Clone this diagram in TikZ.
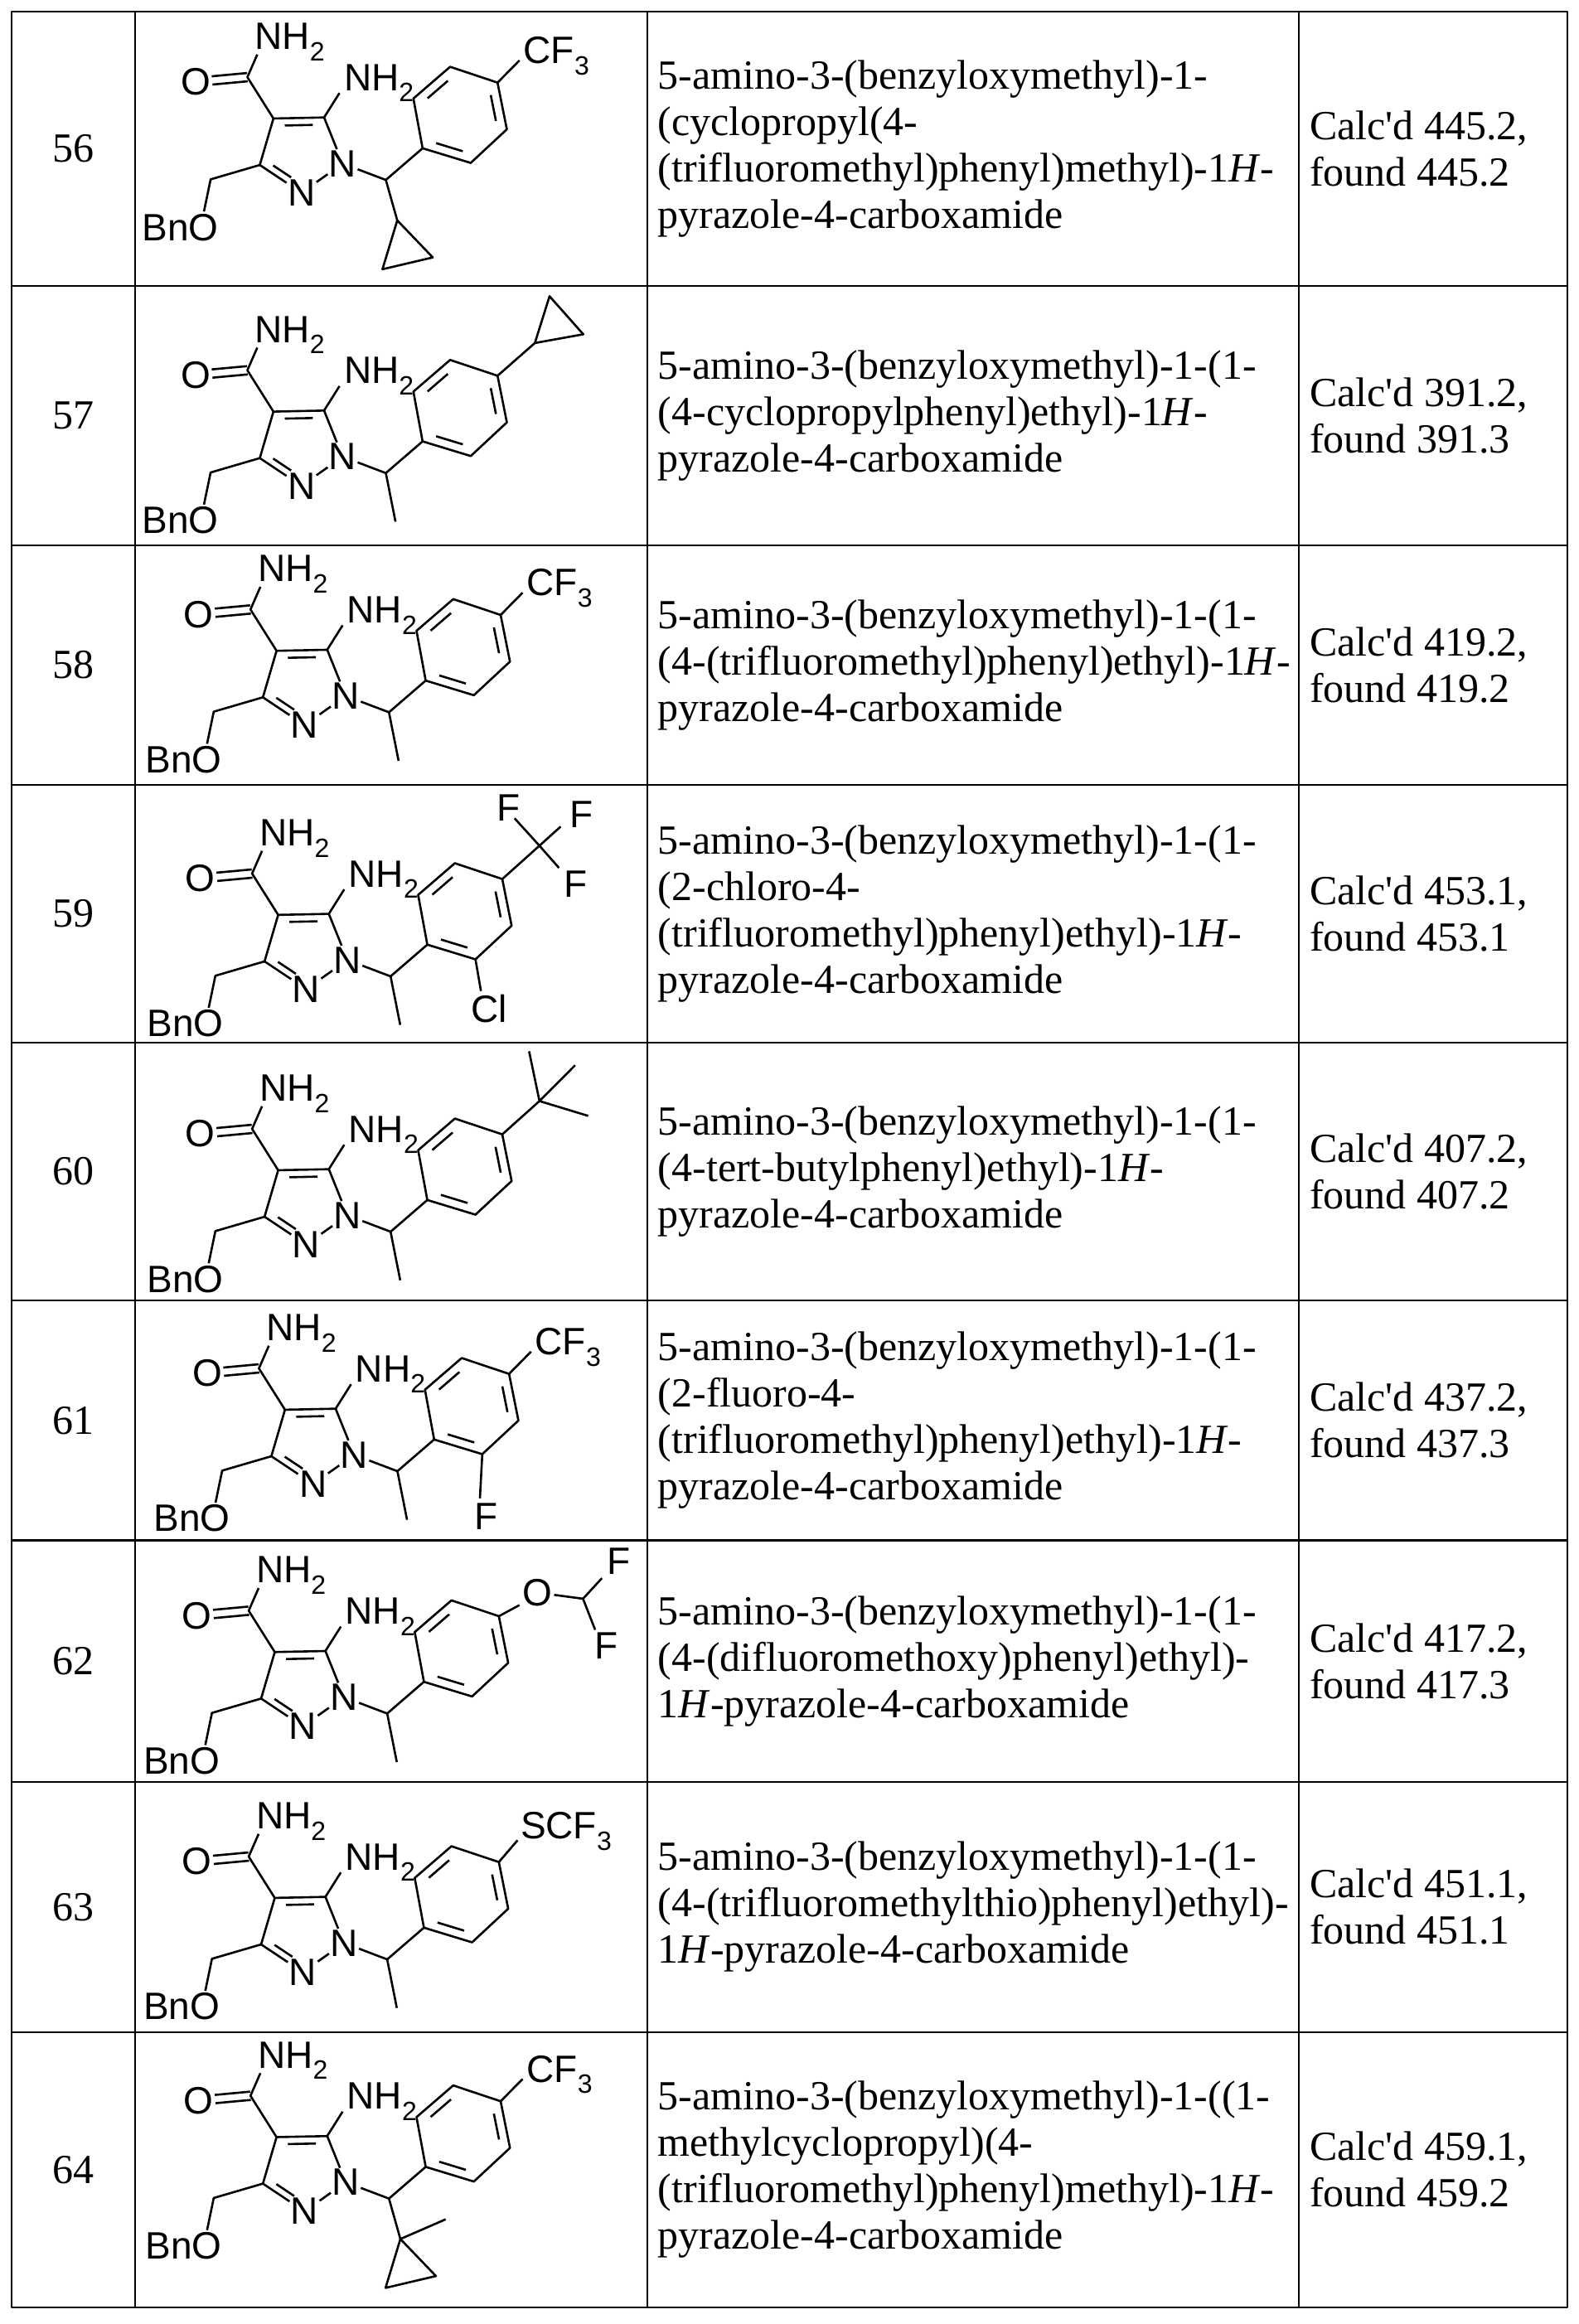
\documentclass[tikz,border=0pt]{standalone}
\usepackage{fontspec}
\setmainfont{Liberation Serif}[Ligatures=TeXOff]
\newfontfamily\arialf{Liberation Sans}
\usetikzlibrary{calc}
\newcommand\sbs[1]{\raisebox{-0.3em}{\fontsize{32}{32}\selectfont #1}}
\newcommand\innerb[3]{\draw ($(#1)!0.15!(#2)!0.21!(#3)$) -- ($(#2)!0.15!(#1)!0.21!(#3)$);}
\newcommand\core{%
  \node[atm] (amA) at (-22,7.5) {NH\sbs{2}};
  \coordinate (amN) at (-19.5,11);
  \coordinate (Cam) at (-26.2,26.3);
  \node[atm] (Ox) at (-72,38.5) {O};
  \coordinate (Oe) at (-50,28.5);
  \coordinate (C4) at (-8.6,54.2);
  \coordinate (C5) at (25.6,53.5);
  \node[atm] (amB) at (38.2,35.3) {NH\sbs{2}};
  \coordinate (amBN) at (36,37);
  \node[atm] (N1) at (28,93.5) {N};
  \node[atm] (N2) at (0.2,113.2) {N};
  \coordinate (C3) at (-17.8,85.6);
  \coordinate (CH2) at (-51,95.3);
  \node[atm] (BnO) at (-98,136.5) {BnO};
  \coordinate (BnOe) at (-55.5,117);
  \coordinate (CH) at (67.3,95.7);
  \coordinate (ipso) at (92.1,74.3);
  \coordinate (oU) at (85.9,40.7);
  \coordinate (mU) at (110.7,19.3);
  \coordinate (para) at (142.7,30);
  \coordinate (mD) at (149,61.5);
  \coordinate (oD) at (124.6,84.2);
  \coordinate (pz) at (8.4,77.1);
  \coordinate (bz) at (117.4,52.2);
  \draw (amN) -- (Cam) -- (C4) -- (C5) -- (amBN);
  \draw ($(Cam)!5pt!90:(Oe)$) -- ($(Oe)!5pt!-90:(Cam)$);
  \draw ($(Cam)!5pt!-90:(Oe)$) -- ($(Oe)!5pt!90:(Cam)$);
  \innerb{C4}{C5}{pz}
  \draw (C5) -- (N1); \draw (N1) -- (N2); \draw (N2) -- (C3);
  \draw ($(C3)!0.15!(N2)!0.22!(pz)$) -- ($(C3)!0.7!(N2)!0.22!(pz)$);
  \draw (C3) -- (C4);
  \draw (C3) -- (CH2) -- (BnOe);
  \draw (N1) -- (CH) -- (ipso);
  \draw (ipso) -- (oU) -- (mU) -- (para) -- (mD) -- (oD) -- cycle;
  \innerb{oU}{mU}{bz}
  \innerb{para}{mD}{bz}
  \innerb{oD}{ipso}{bz}
}
\newcommand\cfthree{%
  \coordinate (sb) at (157.5,15);
  \node[atm] (cf) at (159.5,17) {CF\sbs{3}};
  \draw (para) -- (sb);}
\newcommand\methyl{\coordinate (me) at (73.8,128.5); \draw (CH) -- (me);}
\newcommand\cpch{%
  \coordinate (cq) at (75,123); \coordinate (cr) at (65,156); \coordinate (cs) at (99,148);
  \draw (CH) -- (cq); \draw (cq) -- (cr) -- (cs) -- cycle;}
\tikzset{
  atm/.style={font=\arialf\fontsize{46}{46}\selectfont, inner sep=1.5pt, outer sep=0pt, anchor=base west},
  every path/.style={line width=2.6pt, line join=round},
  grid/.style={line width=2.2pt},
  num/.style={font=\fontsize{50}{56}\selectfont, inner sep=0pt},
  cname/.style={font=\fontsize{50}{56}\selectfont, inner sep=0pt, anchor=west, align=left},
}
\begin{document}
\begin{tikzpicture}[x=1.78705pt,y=-1.78705pt]
\useasboundingbox[fill=white] (0,0) rectangle (1066,1569.1);
% table
\draw[grid] (8,8) rectangle (1058,1558);
\foreach \xx in {91,437,877} \draw[grid] (\xx,8) -- (\xx,1558);
\foreach \yy in {193,368,530,704,878,1040,1203,1372} \draw[grid] (8,\yy) -- (1058,\yy);
% numbers
\foreach \n/\yc in {56/100.5,57/280.5,58/449,59/617,60/791,61/959,62/1121.5,63/1287.5,64/1465}
  \node[num] (n\n) at (49.5,\yc) {\n};
% names
\def\aa{5-amino-3-(benzyloxymethyl)-1-}
\node[cname] (t56) at (443.5,100.5) {\aa\\(cyclopropyl(4-\\(trifluoromethyl)phenyl)methyl)-1\textit{H}-\\pyrazole-4-carboxamide};
\node[cname] (t57) at (443.5,280.5) {\aa(1-\\(4-cyclopropylphenyl)ethyl)-1\textit{H}-\\pyrazole-4-carboxamide};
\node[cname] (t58) at (443.5,449) {\aa(1-\\(4-(trifluoromethyl)phenyl)ethyl)-1\textit{H}-\\pyrazole-4-carboxamide};
\node[cname] (t59) at (443.5,617) {\aa(1-\\(2-chloro-4-\\(trifluoromethyl)phenyl)ethyl)-1\textit{H}-\\pyrazole-4-carboxamide};
\node[cname] (t60) at (443.5,791) {\aa(1-\\(4-tert-butylphenyl)ethyl)-1\textit{H}-\\pyrazole-4-carboxamide};
\node[cname] (t61) at (443.5,959) {\aa(1-\\(2-fluoro-4-\\(trifluoromethyl)phenyl)ethyl)-1\textit{H}-\\pyrazole-4-carboxamide};
\node[cname] (t62) at (443.5,1121.5) {\aa(1-\\(4-(difluoromethoxy)phenyl)ethyl)-\\1\textit{H}-pyrazole-4-carboxamide};
\node[cname] (t63) at (443.5,1287.5) {\aa(1-\\(4-(trifluoromethylthio)phenyl)ethyl)-\\1\textit{H}-pyrazole-4-carboxamide};
\node[cname] (t64) at (443.5,1465) {\aa((1-\\methylcyclopropyl)(4-\\(trifluoromethyl)phenyl)methyl)-1\textit{H}-\\pyrazole-4-carboxamide};
% mass
\foreach \n/\yc/\ca/\fo in {56/100.5/445.2/445.2,57/280.5/391.2/391.3,58/449/419.2/419.2,59/617/453.1/453.1,60/791/407.2/407.2,61/959/437.2/437.3,62/1121.5/417.2/417.3,63/1287.5/451.1/451.1,64/1465/459.1/459.2}
  \node[cname] (m\n) at (883.5,\yc) {Calc'd \ca,\\found \fo};
% structures
\begin{scope}[shift={(193.2,25.8)}] \core \cfthree \cpch \end{scope}
\begin{scope}[shift={(193.2,223.7)}] \core \methyl
  \coordinate (pa) at (167.9,7.9); \coordinate (pb) at (177.8,-23.7); \coordinate (pc) at (200.6,2);
  \draw (para) -- (pa); \draw (pa) -- (pb) -- (pc) -- cycle; \end{scope}
\begin{scope}[shift={(195.3,385.2)}] \core \cfthree \methyl \end{scope}
\begin{scope}[shift={(196.4,563.5)}] \core \methyl
  \coordinate (fc) at (167.8,7.5);
  \node[atm] (f1) at (138.5,-9) {F}; \node[atm] (f2) at (187.2,-5) {F}; \node[atm] (f3) at (183.5,42) {F};
  \coordinate (f1e) at (151,-11); \coordinate (f2e) at (182.1,-5.4); \coordinate (f3e) at (181,22.5);
  \draw (para) -- (fc); \draw (fc) -- (f1e); \draw (fc) -- (f2e); \draw (fc) -- (f3e);
  \node[atm] (cl) at (121,126.5) {Cl}; \coordinate (cle) at (128.3,105.6); \draw (oD) -- (cle);
\end{scope}
\begin{scope}[shift={(196.4,735.9)}] \core \methyl
  \coordinate (tq) at (167.8,7.5); \coordinate (t1) at (160.8,-26.1); \coordinate (t2) at (191.9,-16.7); \coordinate (t3) at (200.7,17.5);
  \draw (para) -- (tq); \draw (t1) -- (tq) -- (t2); \draw (tq) -- (t3);
\end{scope}
\begin{scope}[shift={(201,897.6)}] \core \cfthree \methyl
  \node[atm] (ff) at (118.5,135) {F}; \coordinate (ffe) at (123,114); \draw (oD) -- (ffe);
\end{scope}
\begin{scope}[shift={(194.1,1061.2)}] \core \methyl
  \node[atm] (oo) at (158,23) {O}; \coordinate (ooa) at (156.6,22.5); \coordinate (oob) at (180,15.6);
  \coordinate (hc) at (199.5,18.2);
  \node[atm] (g1) at (215,1.5) {F}; \node[atm] (g2) at (206.5,59) {F};
  \coordinate (g1e) at (212.3,4.3); \coordinate (g2e) at (207.7,39.2);
  \draw (para) -- (ooa); \draw (oob) -- (hc) -- (g1e); \draw (hc) -- (g2e);
\end{scope}
\begin{scope}[shift={(194.1,1227.2)}] \core \methyl
  \node[atm] (scf) at (156.5,14.5) {SCF\sbs{3}}; \coordinate (se) at (155.3,15.3); \draw (para) -- (se);
\end{scope}
\begin{scope}[shift={(195.3,1388.7)}] \core \cfthree \cpch
  \coordinate (mq) at (105.6,109.7); \draw (cq) -- (mq);
\end{scope}
\end{tikzpicture}
\end{document}
